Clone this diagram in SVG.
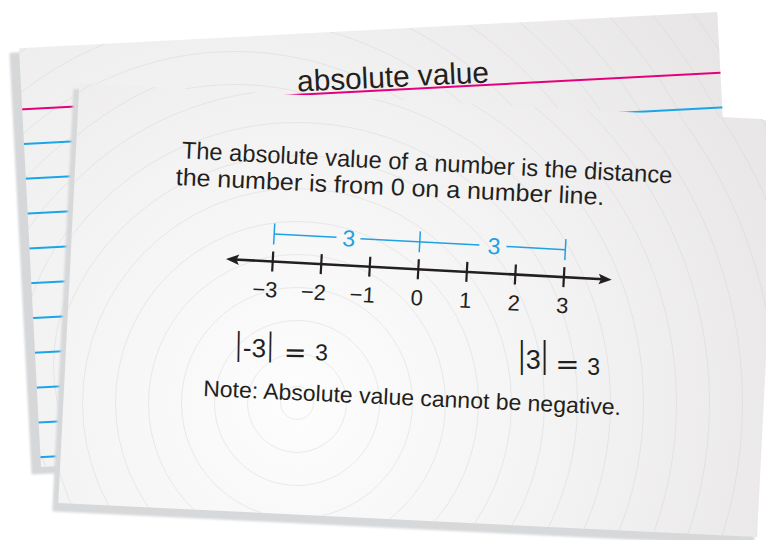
<svg xmlns="http://www.w3.org/2000/svg" width="766" height="540" viewBox="0 0 766 540">
<style>
.ink{fill:#231f20;font-family:"Liberation Sans",Arial,sans-serif}
.body{font-size:24px}
.ring{fill:none;stroke:#d4d4d4;stroke-width:0.6;stroke-opacity:0.75}
.pink{stroke:#e4007c;stroke-width:2}
.blue{stroke:#1aa5e8;stroke-width:2}
.tick{stroke:#231f20;stroke-width:2.2}
.br{stroke:#1ea2e2;stroke-width:1.5;fill:none}
.bt{fill:#1ea2e2;font-family:"Liberation Sans",Arial,sans-serif;font-size:23px;text-anchor:middle}
.lbl{font-size:22px}
.mid{text-anchor:middle}
.end{text-anchor:end}
.bar{font-family:"Liberation Serif",serif}
.eq{font-family:"DejaVu Sans",sans-serif}
</style>
<defs>
  <filter id="blur" x="-5%" y="-5%" width="110%" height="110%"><feGaussianBlur stdDeviation="1.3"/></filter>
  <radialGradient id="gBack" gradientUnits="userSpaceOnUse" cx="235" cy="365" r="600">
    <stop offset="0" stop-color="#f7f7f7"/>
    <stop offset="0.55" stop-color="#f1f0f0"/>
    <stop offset="1" stop-color="#e7e5e5"/>
  </radialGradient>
  <radialGradient id="gFront" gradientUnits="userSpaceOnUse" cx="297" cy="403" r="540">
    <stop offset="0" stop-color="#fdfdfd"/>
    <stop offset="0.5" stop-color="#f4f3f3"/>
    <stop offset="1" stop-color="#e8e6e6"/>
  </radialGradient>
  <clipPath id="cBack"><polygon points="19,48.3 717.3,12 739,430 41,467"/></clipPath>
  <clipPath id="cFront"><polygon points="79.3,83.3 778,120 757,537 58.3,503"/></clipPath>
  <g id="rings">
    <circle class="ring" r="16.5" stroke-opacity="0.3"/><circle class="ring" r="49.5" stroke-opacity="0.35"/><circle class="ring" r="82.5" stroke-opacity="0.4"/>
    <circle class="ring" r="115.5" stroke-opacity="0.45"/><circle class="ring" r="148.5" stroke-opacity="0.5"/><circle class="ring" r="181.5" stroke-opacity="0.55"/>
    <circle class="ring" r="214.5" stroke-opacity="0.6"/><circle class="ring" r="247.5" stroke-opacity="0.65"/><circle class="ring" r="280.5"/>
    <circle class="ring" r="313.5"/><circle class="ring" r="346.5"/><circle class="ring" r="379.5"/>
    <circle class="ring" r="412.5"/><circle class="ring" r="445.5"/><circle class="ring" r="478.5"/>
    <circle class="ring" r="511.5"/><circle class="ring" r="544.5"/><circle class="ring" r="577.5"/>
    <circle class="ring" r="610.5"/>
  </g>
</defs>

<rect width="766" height="540" fill="#ffffff"/>

<!-- back card -->
<g id="back-card">
  <polygon points="19,48.3 717.3,12 739,430 41,467" transform="translate(-8,6)" fill="#d5d7d9" stroke="#d5d7d9" stroke-width="3" stroke-linejoin="round" filter="url(#blur)"/>
  <polygon points="19,48.3 717.3,12 739,430 41,467" fill="url(#gBack)"/>
  <g clip-path="url(#cBack)">
    <use href="#rings" x="235" y="365"/>
    <line class="pink" x1="0" y1="110.4" x2="740" y2="71.7"/>
    <line class="blue" x1="0" y1="145.2" x2="740" y2="106.5"/>
    <line class="blue" x1="0" y1="180.1" x2="740" y2="141.4"/>
    <line class="blue" x1="0" y1="215.0" x2="740" y2="176.3"/>
    <line class="blue" x1="0" y1="249.9" x2="740" y2="211.2"/>
    <line class="blue" x1="0" y1="284.8" x2="740" y2="246.1"/>
    <line class="blue" x1="0" y1="319.7" x2="740" y2="281.0"/>
    <line class="blue" x1="0" y1="354.6" x2="740" y2="315.9"/>
    <line class="blue" x1="0" y1="389.5" x2="740" y2="350.8"/>
    <line class="blue" x1="0" y1="424.4" x2="740" y2="385.7"/>
    <line class="blue" x1="0" y1="459.3" x2="740" y2="420.6"/>
  </g>
  <text class="ink" font-size="30" transform="translate(297.6,91.5) rotate(-2.7)" textLength="192" lengthAdjust="spacingAndGlyphs" fill="#2a2728">absolute value</text>
</g>

<!-- front card -->
<g id="front-card">
  <polygon points="79.3,83.3 778,120 757,537 58.3,503" transform="translate(-4.5,7)" fill="#d6d8da" stroke="#d6d8da" stroke-width="3" stroke-linejoin="round" filter="url(#blur)"/>
  <polygon points="79.3,83.3 778,120 757,537 58.3,503" fill="url(#gFront)"/>
  <g clip-path="url(#cFront)">
    <use href="#rings" x="297" y="403"/>
  </g>
  <text class="ink body" transform="translate(181.5,158.3) rotate(2.92)" textLength="491" lengthAdjust="spacingAndGlyphs">The absolute value of a number is the distance</text>
  <text class="ink body" transform="translate(175.5,185) rotate(2.67)" textLength="429" lengthAdjust="spacingAndGlyphs">the number is from 0 on a number line.</text>
</g>

<!-- number line -->
<g id="number-line" transform="translate(418.3,269.3) rotate(3.07)">
  <line x1="-184" y1="0" x2="185" y2="0" stroke="#231f20" stroke-width="2.6"/>
  <path d="M-192.6,0 L-179.5,-5.2 L-182,0 L-179.5,5.2 Z" fill="#231f20"/>
  <path d="M193.7,0 L180.6,-5.2 L183.1,0 L180.6,5.2 Z" fill="#231f20"/>
  <line class="tick" x1="-145.8" y1="-10" x2="-145.8" y2="10"/>
  <line class="tick" x1="-97.2" y1="-10" x2="-97.2" y2="10"/>
  <line class="tick" x1="-48.6" y1="-10" x2="-48.6" y2="10"/>
  <line class="tick" x1="0" y1="-10" x2="0" y2="10"/>
  <line class="tick" x1="48.6" y1="-10" x2="48.6" y2="10"/>
  <line class="tick" x1="97.2" y1="-10" x2="97.2" y2="10"/>
  <line class="tick" x1="145.8" y1="-10" x2="145.8" y2="10"/>
  <text class="ink lbl end" x="-139.5" y="36">−3</text>
  <text class="ink lbl end" x="-91" y="36">−2</text>
  <text class="ink lbl end" x="-42" y="36">−1</text>
  <text class="ink lbl mid" x="0" y="36">0</text>
  <text class="ink lbl mid" x="48.6" y="36">1</text>
  <text class="ink lbl mid" x="97.2" y="36">2</text>
  <text class="ink lbl mid" x="145.8" y="36">3</text>
  <g id="distance-brackets">
    <line class="br" x1="-145.8" y1="-38" x2="-145.8" y2="-17"/>
    <line class="br" x1="0" y1="-38" x2="0" y2="-17"/>
    <line class="br" x1="145.8" y1="-38" x2="145.8" y2="-17"/>
    <line class="br" x1="-145.8" y1="-27.5" x2="-83.4" y2="-27.5"/>
    <line class="br" x1="-59.4" y1="-27.5" x2="59.7" y2="-27.5"/>
    <line class="br" x1="86.8" y1="-27.5" x2="145.8" y2="-27.5"/>
    <text class="bt" x="-71" y="-19.3">3</text>
    <text class="bt" x="74.5" y="-19.3">3</text>
  </g>
</g>

<!-- |-3| = 3 -->
<text id="abs-neg3" class="ink" transform="translate(238.3,359) rotate(1)" x="-3.4" y="0"><tspan class="bar" font-size="34" y="-4.5">|</tspan><tspan font-size="26" dx="1" y="-2.3">-3</tspan><tspan class="bar" font-size="34" dx="0.8" y="-4.5">|</tspan><tspan class="eq" font-size="27" dx="10.3" y="1.7">=</tspan><tspan font-size="23" dx="8.7" y="0">3</tspan></text>

<!-- |3| = 3 -->
<text id="abs-3" class="ink" transform="translate(521.7,375)" x="-3.6" y="0"><tspan class="bar" font-size="38" y="-8">|</tspan><tspan font-size="27" y="-5.7">3</tspan><tspan class="bar" font-size="38" y="-8">|</tspan><tspan class="eq" font-size="29" dx="7" y="-0.6">=</tspan><tspan font-size="23" dx="7.5" y="0">3</tspan></text>

<text id="note" class="ink" font-size="22.5" transform="translate(203,396) rotate(2.6)" textLength="418" lengthAdjust="spacingAndGlyphs">Note: Absolute value cannot be negative.</text>
</svg>
